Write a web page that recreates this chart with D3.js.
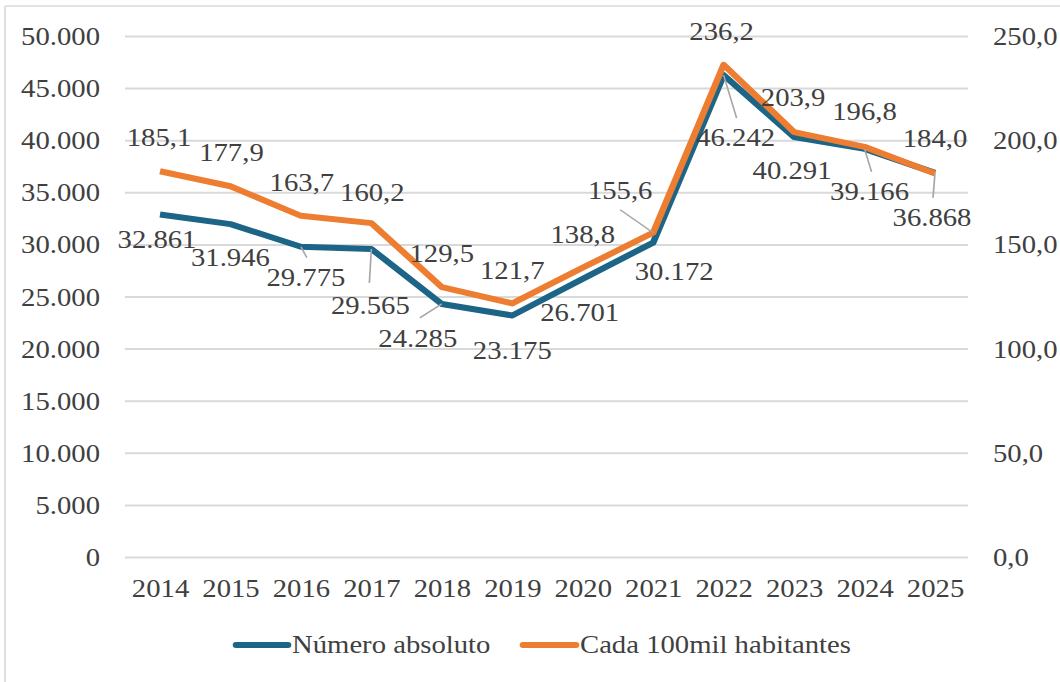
<html>
<head>
<meta charset="utf-8">
<script src="https://d3js.org/d3.v7.min.js"></script>
<style>
body { margin: 0; background: #fff; }
</style>
</head>
<body>
<svg id="chart" width="1060" height="682"></svg>
<script>
// data
var years = ["2014","2015","2016","2017","2018","2019","2020","2021","2022","2023","2024","2025"];
var absoluto = [32861, 31946, 29775, 29565, 24285, 23175, 26701, 30172, 46242, 40291, 39166, 36868];
var taxa = [185.1, 177.9, 163.7, 160.2, 129.5, 121.7, 138.8, 155.6, 236.2, 203.9, 196.8, 184.0];
var leftTicks = [0, 5000, 10000, 15000, 20000, 25000, 30000, 35000, 40000, 45000, 50000];
var rightTicks = [0, 50, 100, 150, 200, 250];
var seriesNames = ["Número absoluto", "Cada 100mil habitantes"];

// label placement (offset from point, px) and leader lines
var taxaOff = [[-1,-34],[1,-34],[1,-33],[1,-31],[0,-34],[0,-33],[0,-33],[-33,-42],[-2,-33],[-1,-35],[0,-35],[0,-35]];
var absOff = [[-3,25],[0,33],[5,31],[-1,56],[-24,34],[0,35],[-3,34],[21,29],[12,62],[-2,33],[5,43],[-3,45]];
var taxaLead = {7: [-33,-23]};
var absLead = {2: [6,11], 3: [-2,34], 4: [-22,14], 8: [13,43], 10: [7,23], 11: [-2,25]};

var blue = "#1c6587", orange = "#ed7d31";
var serif = "'Liberation Serif', 'Times New Roman', Times, 'DejaVu Serif', serif";

// text in the picture is horizontally stretched, so draw in a narrower box and stretch it
var sx = 1060 / 960;
function X(px) { return px / sx; }

var svg = d3.select("#chart")
    .attr("viewBox", "0 0 960 682")
    .attr("preserveAspectRatio", "none");

var x = d3.scalePoint().domain(years).range([X(160), X(935)]);
var y = d3.scaleLinear().domain([0, 50000]).range([557, 36]);
var y2 = d3.scaleLinear().domain([0, 250]).range([557, 36]);

var fmtAbs = function(v) { return d3.format(",")(v).replace(/,/g, "."); };
var fmtTaxa = function(v) { return d3.format(".1f")(v).replace(".", ","); };

// outer border (left and top visible)
svg.append("line").attr("x1", X(5)).attr("x2", X(5)).attr("y1", 6).attr("y2", 682)
   .attr("stroke", "#d9d9d9").attr("stroke-width", 1.5);
svg.append("line").attr("x1", X(5)).attr("x2", 960).attr("y1", 6).attr("y2", 6)
   .attr("stroke", "#d9d9d9").attr("stroke-width", 1.5);

// gridlines
svg.append("g")
   .attr("transform", "translate(" + X(125) + ",0)")
   .call(d3.axisLeft(y).tickValues(leftTicks).tickSize(-(X(968) - X(125))).tickFormat(""))
   .call(function(g) {
       g.select(".domain").remove();
       g.selectAll("line").attr("stroke", "#d9d9d9").attr("stroke-width", 2);
   });

function styleTicks(g) {
    g.attr("font-family", null);
    g.select(".domain").remove();
    g.selectAll("text").attr("dy", "0.33em");
}

// left axis labels
svg.append("g")
   .attr("transform", "translate(" + X(100) + ",0)")
   .call(d3.axisLeft(y).tickValues(leftTicks).tickSize(0).tickPadding(0).tickFormat(fmtAbs))
   .call(styleTicks);

// right axis labels
svg.append("g")
   .attr("transform", "translate(" + X(993) + ",0)")
   .call(d3.axisRight(y2).tickValues(rightTicks).tickSize(0).tickPadding(0).tickFormat(fmtTaxa))
   .call(styleTicks);

// x axis labels
svg.append("g")
   .attr("transform", "translate(0,588)")
   .call(d3.axisBottom(x).tickSize(0).tickPadding(0))
   .call(styleTicks)
   .call(function(g) { g.selectAll("text").attr("y", 0); });

// lines
var lineAbs = d3.line().x(function(d, i) { return x(years[i]); }).y(function(d) { return y(d); });
var lineTaxa = d3.line().x(function(d, i) { return x(years[i]); }).y(function(d) { return y2(d); });

svg.append("path").datum(absoluto).attr("d", lineAbs)
   .attr("fill", "none").attr("stroke", blue).attr("stroke-width", 6).attr("stroke-linejoin", "round");
svg.append("path").datum(taxa).attr("d", lineTaxa)
   .attr("fill", "none").attr("stroke", orange).attr("stroke-width", 6).attr("stroke-linejoin", "round");

// leader lines
function leaders(values, scale, lead) {
    Object.keys(lead).forEach(function(k) {
        var i = +k;
        svg.append("line")
           .attr("x1", x(years[i])).attr("y1", scale(values[i]))
           .attr("x2", x(years[i]) + X(lead[k][0])).attr("y2", scale(values[i]) + lead[k][1])
           .attr("stroke", "#a6a6a6").attr("stroke-width", 1.5);
    });
}
leaders(absoluto, y, absLead);
leaders(taxa, y2, taxaLead);

// data labels
function labels(values, scale, off, fmt) {
    svg.append("g").selectAll("text")
       .data(values)
       .enter()
       .append("text")
       .attr("x", function(d, i) { return x(years[i]) + X(off[i][0]); })
       .attr("y", function(d, i) { return scale(d) + off[i][1]; })
       .attr("dy", "0.33em")
       .attr("text-anchor", "middle")
       .text(fmt);
}
labels(taxa, y2, taxaOff, fmtTaxa);
labels(absoluto, y, absOff, fmtAbs);

// legend
var legend = [
    {name: seriesNames[0], color: blue, x0: 236, x1: 288, tx: 292},
    {name: seriesNames[1], color: orange, x0: 523, x1: 576, tx: 580}
];
var lg = svg.append("g").selectAll("g").data(legend).enter().append("g");
lg.append("line")
  .attr("x1", function(d) { return X(d.x0); }).attr("x2", function(d) { return X(d.x1); })
  .attr("y1", 645).attr("y2", 645)
  .attr("stroke", function(d) { return d.color; })
  .attr("stroke-width", 6).attr("stroke-linecap", "round");
lg.append("text")
  .attr("x", function(d) { return X(d.tx); })
  .attr("y", 644).attr("dy", "0.33em")
  .text(function(d) { return d.name; });

// all text: serif, grey
svg.selectAll("text")
   .style("font-family", serif)
   .style("font-size", "26px")
   .style("fill", "#404040");
</script>
</body>
</html>
